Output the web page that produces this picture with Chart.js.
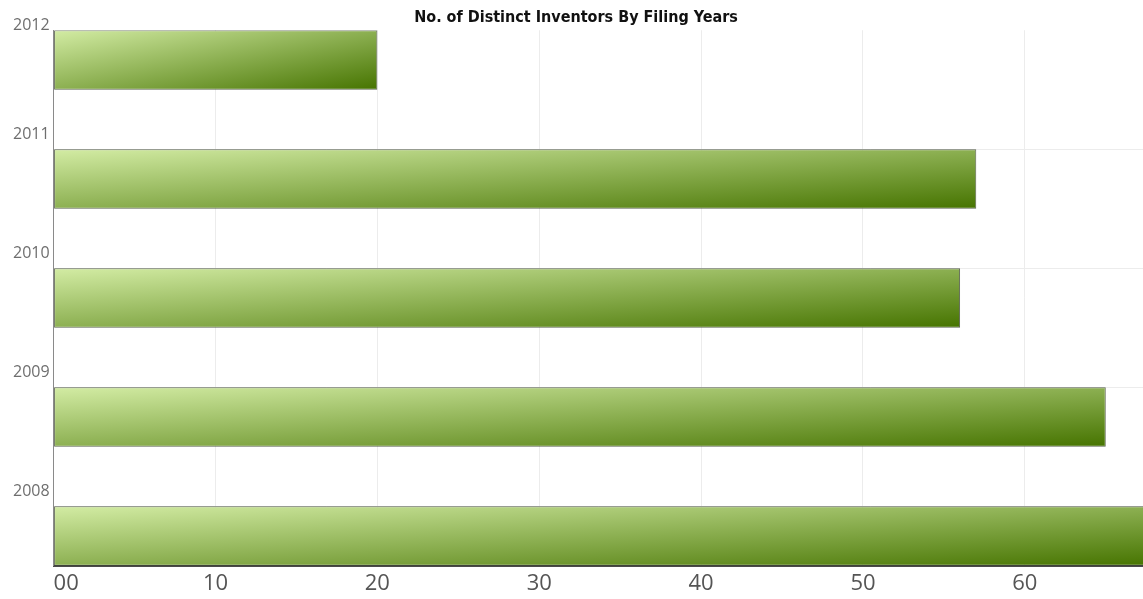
<!DOCTYPE html>
<html>
<head>
<meta charset="utf-8">
<title>No. of Distinct Inventors By Filing Years</title>
<script src="https://cdn.jsdelivr.net/npm/chart.js@4/dist/chart.umd.min.js"></script>
<style>
  html, body { margin: 0; padding: 0; background: #ffffff; }
  #wrap { width: 1143px; height: 599px; }
</style>
</head>
<body>
<div id="wrap"><canvas id="chart" width="1143" height="599"></canvas></div>
<script>
// Filing years, top to bottom
const years = ['2012', '2011', '2010', '2009', '2008'];
// Distinct inventors per filing year
const inventors = [20, 57, 56, 65, 68];
// Value-axis tick labels
const valueTicks = [0, 10, 20, 30, 40, 50, 60];
const valueTickLabels = ['00', '10', '20', '30', '40', '50', '60'];

// Diagonal light-to-dark green fill, spread over each bar's own box
function barGradient(context) {
  const chart = context.chart;
  const xs = chart.scales.x, ys = chart.scales.y;
  if (!chart.chartArea || !xs || !ys) return '#8cb052';
  const raw = context.raw;
  const x0 = xs.getPixelForValue(0);
  const x1 = xs.getPixelForValue(raw.x);
  const step = Math.abs(ys.getPixelForValue(1) - ys.getPixelForValue(0));
  const h = step * 0.5;
  const yTop = ys.getPixelForValue(raw.y) - h / 2;
  const w = Math.max(1, x1 - x0);
  const d = w * w + h * h;
  const dx = 2 * w * h * h / d;
  const dy = 2 * w * w * h / d;
  const g = chart.ctx.createLinearGradient(x0, yTop, x0 + dx, yTop + dy);
  g.addColorStop(0, '#d3eca4');
  g.addColorStop(1, '#467400');
  return g;
}

const ctx = document.getElementById('chart').getContext('2d');
new Chart(ctx, {
  type: 'bar',
  data: {
    datasets: [{
      label: 'Inventors',
      data: inventors.map((v, i) => ({ x: v, y: i })),
      backgroundColor: barGradient,
      borderColor: 'rgba(45, 55, 30, 0.78)',
      borderWidth: 1,
      borderSkipped: false,
      categoryPercentage: 1,
      barPercentage: 0.5
    }]
  },
  options: {
    indexAxis: 'y',
    responsive: false,
    animation: false,
    layout: { padding: { left: 9, right: 0, top: 0, bottom: -2 } },
    plugins: {
      legend: { display: false },
      tooltip: { enabled: false },
      title: {
        display: true,
        text: 'No. of Distinct Inventors By Filing Years',
        color: '#111111',
        font: { family: '"DejaVu Sans Condensed", "DejaVu Sans", sans-serif', size: 16, weight: 'bold' },
        padding: { top: 8, bottom: 3 }
      }
    },
    scales: {
      x: {
        type: 'linear',
        position: 'bottom',
        min: 0,
        max: 67.3,
        z: 1,
        afterBuildTicks: (scale) => {
          scale.ticks = valueTicks.map(v => ({ value: v })).concat([{ value: scale.max }]);
        },
        ticks: {
          align: 'inner',
          autoSkip: false,
          maxRotation: 0,
          padding: 0,
          color: '#555555',
          font: { family: '"Open Sans", sans-serif', size: 22, lineHeight: 1.6 },
          callback: (value) => {
            const i = valueTicks.indexOf(value);
            return i >= 0 ? valueTickLabels[i] : '';
          }
        },
        grid: { color: 'rgba(0, 0, 0, 0.075)', drawTicks: false },
        border: { color: '#4a4a4a', width: 2 }
      },
      y: {
        type: 'linear',
        reverse: true,
        offset: false,
        min: -0.25,
        max: years.length - 0.75,
        afterBuildTicks: (scale) => {
          scale.ticks = years.map((_, i) => ({ value: i - 0.25 }));
        },
        ticks: {
          autoSkip: false,
          padding: 4,
          color: '#6e6e6e',
          // year labels sit just above each band's top line; the first one is kept inside the canvas
          font: (c) => ({
            family: '"Open Sans", sans-serif',
            size: 16,
            lineHeight: c.index === 0 ? 0.56 : 0.94
          }),
          callback: (value, index) => {
            const year = years[Math.round(value + 0.25)];
            return index === 0 ? [year, ''] : [year, '', ''];
          }
        },
        grid: {
          offset: false,
          color: (c) => (c.index === 0 ? 'rgba(0,0,0,0)' : '#ececec'),
          drawTicks: false
        },
        border: { color: '#8a8a8a', width: 1 }
      }
    }
  }
});
</script>
</body>
</html>
